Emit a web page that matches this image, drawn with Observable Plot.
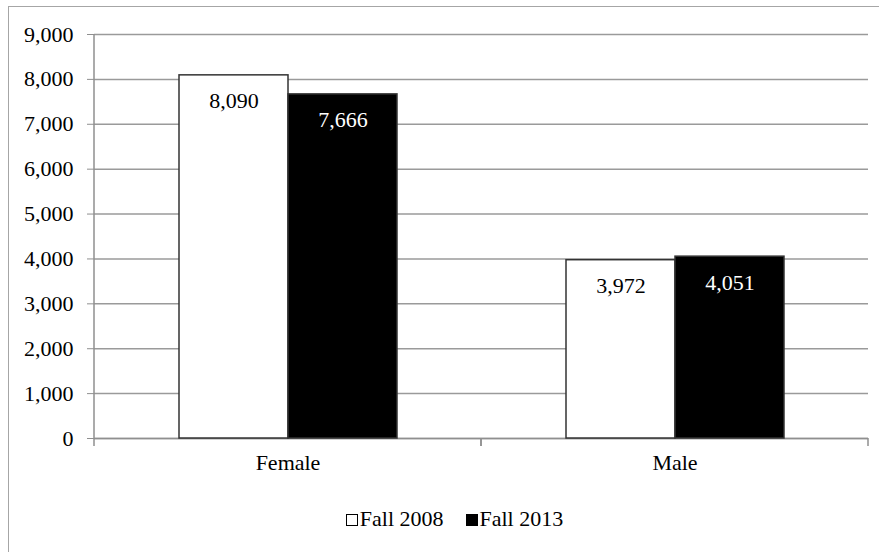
<!DOCTYPE html>
<html><head><meta charset="utf-8">
<script src="https://cdn.jsdelivr.net/npm/d3@7"></script>
<script src="https://cdn.jsdelivr.net/npm/@observablehq/plot@0.6"></script>
<style>
html,body{margin:0;padding:0;overflow:hidden;background:#fff;width:879px;height:552px;}
#frame{position:absolute;left:8px;top:6px;width:1000px;height:1000px;border:1.5px solid #a6a6a6;}
#chart{position:absolute;left:0;top:0;}
#legend{position:absolute;left:0;top:508px;width:909px;text-align:center;font-family:"Liberation Serif","Times New Roman",serif;font-size:22px;line-height:22px;color:#000;white-space:nowrap;}
#legend .sw{display:inline-block;width:10px;height:10px;border:1.5px solid #000;margin-right:2px;}
#legend .item{margin:0 11px;}
</style></head>
<body>
<div id="frame"></div>
<div id="chart"></div>
<div id="legend"></div>
<script>
// ---- data ----
const categories = ["Female", "Male"];
const seriesNames = ["Fall 2008", "Fall 2013"];
const fall2008 = [8090, 3972];
const fall2013 = [7666, 4051];
const yTicks = [0, 1000, 2000, 3000, 4000, 5000, 6000, 7000, 8000, 9000];

const seriesColors = ["#ffffff", "#000000"];
const fmt = d3.format(",");

const rows = categories.flatMap((c, i) => [
  {category: c, series: seriesNames[0], value: fall2008[i]},
  {category: c, series: seriesNames[1], value: fall2013[i]}
]);

const axisGray = "#8f8f8f";

const plot = Plot.plot({
  width: 879,
  height: 490,
  marginLeft: 94,
  marginRight: 11,
  marginTop: 34,
  marginBottom: 52,
  style: {fontFamily: "'Liberation Serif','Times New Roman',serif", fontSize: "22px", background: "transparent", color: "#000"},
  fx: {domain: categories, padding: 0},
  x: {domain: seriesNames, paddingInner: 0, paddingOuter: 0.76, axis: null},
  y: {domain: [0, d3.max(yTicks)]},
  color: {domain: seriesNames, range: seriesColors},
  marks: [
    Plot.gridY(yTicks, {stroke: "#9a9a9a", strokeOpacity: 1, strokeWidth: 1.5}),
    Plot.axisY(yTicks, {tickSize: 7, tickPadding: 14, tickFormat: fmt, stroke: axisGray, fill: "#000", label: null, fontSize: 22}),
    Plot.axisFx({anchor: "bottom", tickSize: 0, tickPadding: 16, label: null, fontSize: 22, fill: "#000"}),
    Plot.ruleY([0], {stroke: axisGray, strokeWidth: 1.5}),
    // category separators and vertical value axis line
    Plot.ruleY(categories, {fx: d => d, y: () => 0, render: (index, scales, values, dimensions) => {
      const g = d3.create("svg:g");
      if (!index.length) return g.node();
      const {marginLeft, marginRight, width} = dimensions;
      const [r0, r1] = scales.x && scales.x.range ? scales.x.range() : [marginLeft, width - marginRight];
      const y0 = scales.y(0);
      const yTop = scales.y(d3.max(yTicks));
      const lines = [[r0, y0, r0, y0 + 8], [r1, y0, r1, y0 + 8]];
      if (categories[index[0]] === categories[0]) lines.push([r0, yTop, r0, y0]);
      g.selectAll("line").data(lines).join("line")
        .attr("x1", d => d[0]).attr("y1", d => d[1]).attr("x2", d => d[2]).attr("y2", d => d[3])
        .attr("stroke", axisGray).attr("stroke-width", 1.5);
      return g.node();
    }}),
    Plot.barY(rows, {fx: "category", x: "series", y: "value", fill: "series", stroke: "#333", strokeWidth: 1.5}),
    Plot.text(rows, {filter: d => d.series === seriesNames[0], fx: "category", x: "series", y: "value", text: d => fmt(d.value), fill: "#000", dy: 26, fontSize: 22}),
    Plot.text(rows, {filter: d => d.series === seriesNames[1], fx: "category", x: "series", y: "value", text: d => fmt(d.value), fill: "#fff", dy: 26, fontSize: 22})
  ]
});
document.getElementById("chart").appendChild(plot);

// legend
const legend = d3.select("#legend");
seriesNames.forEach((s, i) => {
  const item = legend.append("span").attr("class", "item");
  item.append("span").attr("class", "sw").style("background", seriesColors[i]);
  item.append("span").text(s);
});
</script>
</body></html>
